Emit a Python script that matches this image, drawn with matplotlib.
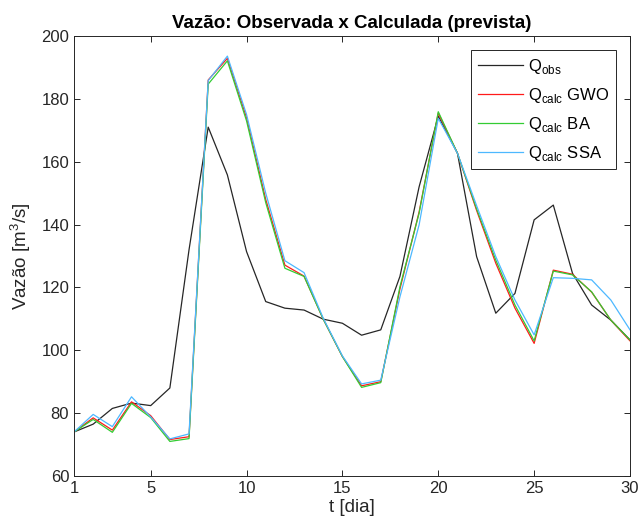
import matplotlib
matplotlib.use("Agg")
import matplotlib.pyplot as plt
import numpy as np

plt.rcParams['font.family'] = ['Liberation Sans', 'DejaVu Sans']
plt.rcParams['mathtext.fontset'] = 'custom'
plt.rcParams['mathtext.rm'] = 'Liberation Sans'

# Days
t = np.arange(1, 31)

q_obs = [74, 76.5, 81.5, 83.2, 82.4, 88, 132, 171, 155.8, 131.4,
         115.5, 113.4, 112.8, 109.9, 108.6, 104.8, 106.5, 123.5, 152, 174.5,
         162.7, 129.8, 111.8, 118.1, 141.5, 146.2, 124.5, 114.4, 109.6, 103.3]
q_gwo = [74, 78.5, 74.6, 83.6, 79.2, 71.6, 72.5, 186, 192.9, 174,
         148, 127.1, 123.6, 109.9, 98, 88.7, 90, 119.5, 144, 175.5,
         162.7, 144.5, 127.7, 113.4, 102.2, 125.5, 124.2, 118.5, 109.6, 103]
q_ba = [74, 78, 73.9, 83.1, 78.6, 71, 71.9, 184.7, 192.1, 173,
        147, 126.1, 123.5, 109.9, 98, 88.2, 89.7, 120.2, 143.6, 175.9,
        162.7, 145, 128.7, 114.4, 103, 125.2, 124, 118.6, 109.6, 103.3]
q_ssa = [74, 79.6, 75.7, 85.2, 78.8, 71.8, 73.4, 185.8, 193.6, 175,
         150, 128.5, 124.7, 110.2, 98.2, 89.3, 90.5, 117, 139.9, 173.8,
         162.7, 146, 129.8, 116, 104.9, 123.1, 122.9, 122.4, 116, 106.5]

fig = plt.figure(figsize=(6.41, 5.27), dpi=100)
ax = fig.add_axes([74 / 641, 1 - 476 / 527, 556 / 641, 440 / 527])

ax.plot(t, q_obs, color='#262626', lw=0.9, label=r'Q$_{\mathregular{obs}}$')
ax.plot(t, q_gwo, color='#ff1a1a', lw=0.9, label=r'Q$_{\mathregular{calc}}$ GWO')
ax.plot(t, q_ba, color='#33cc33', lw=0.9, label=r'Q$_{\mathregular{calc}}$ BA')
ax.plot(t, q_ssa, color='#4db8ff', lw=0.9, label=r'Q$_{\mathregular{calc}}$ SSA')

ax.set_xlim(1, 30)
ax.set_ylim(60, 200)
ax.set_xticks([1, 5, 10, 15, 20, 25, 30])
ax.set_yticks(np.arange(60, 201, 20))
ax.tick_params(direction='in', top=True, right=True, labelsize=12,
               length=4, width=0.7, colors='#262626')
for s in ax.spines.values():
    s.set_color('#262626')
    s.set_linewidth(0.7)

ax.set_title('Vazão: Observada x Calculada (prevista)', fontsize=13.5,
             fontweight='bold', pad=6)
ax.set_xlabel('t [dia]', fontsize=13.5, color='#262626', labelpad=2)
ax.set_ylabel('Vazão [m$^3$/s]', fontsize=13.5, color='#262626', labelpad=6)

leg = ax.legend(loc='upper right', fontsize=12, fancybox=False, framealpha=1,
                edgecolor='#262626', handlelength=2.7, borderaxespad=0.85,
                borderpad=0.4, labelspacing=0.6, handletextpad=0.3)
leg.get_frame().set_linewidth(0.7)

fig.savefig('out.png', dpi=100)
